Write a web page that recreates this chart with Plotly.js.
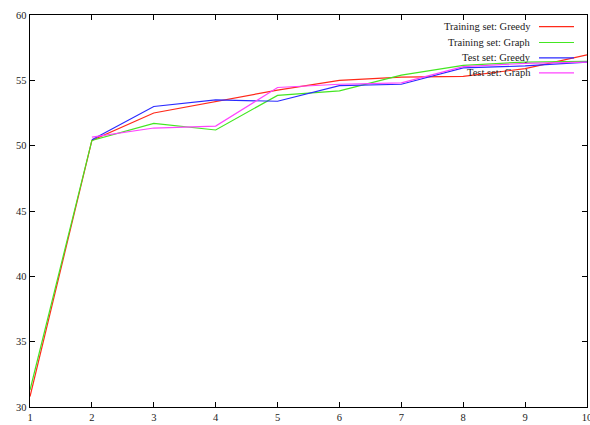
<!DOCTYPE html>
<html>
<head>
<meta charset="utf-8">
<script src="https://cdn.plot.ly/plotly-3.0.1.min.js"></script>
<style>html,body{margin:0;padding:0;background:#fff;}#chart{width:590px;height:425px;}</style>
</head>
<body>
<div id="chart"></div>
<script>
const xTrain = [1, 2, 3, 4, 5, 6, 7, 8, 9, 10];
const xTest = [2, 3, 4, 5, 6, 7, 8, 9, 10];
const trainGreedy = [30.8, 50.4, 52.5, 53.35, 54.25, 55.0, 55.25, 55.3, 55.9, 56.95];
const trainGraph = [31.3, 50.4, 51.7, 51.2, 53.85, 54.2, 55.4, 56.15, 56.4, 56.45];
const testGreedy = [50.45, 53.0, 53.5, 53.4, 54.6, 54.7, 55.95, 56.1, 56.4];
const testGraph = [50.65, 51.35, 51.5, 54.45, 54.7, 54.8, 56.05, 56.3, 56.4];
const seriesNames = ["Training set: Greedy", "Training set: Graph", "Test set: Greedy", "Test set: Graph"];
const seriesColors = ["#ff2a1a", "#44e622", "#2a2aff", "#ff44ff"];
const xTicks = [1, 2, 3, 4, 5, 6, 7, 8, 9, 10];
const yTicks = [30, 35, 40, 45, 50, 55, 60];

const xs = [xTrain, xTrain, xTest, xTest];
const ys = [trainGreedy, trainGraph, testGreedy, testGraph];
const traces = ys.map((y, i) => ({
  x: xs[i], y: y, type: 'scatter', mode: 'lines', name: seriesNames[i],
  line: {color: seriesColors[i], width: 1.2}, showlegend: false, hoverinfo: 'none'
}));

const font = {family: 'Liberation Serif, Times New Roman, serif', size: 10.5, color: '#222'};
const annotations = [];
const shapes = [];
const rowY = [26.7, 42.5, 57.8, 72.8];
seriesNames.forEach((n, i) => {
  const yp = 1 - (rowY[i] - 15) / (407 - 15);
  annotations.push({xref: 'paper', yref: 'paper', x: (533 - 30) / (587 - 30), y: yp,
    xanchor: 'right', yanchor: 'middle', text: n, showarrow: false, font: font});
  shapes.push({type: 'line', xref: 'paper', yref: 'paper',
    x0: (539 - 30) / (587 - 30), x1: (574 - 30) / (587 - 30), y0: yp, y1: yp,
    line: {color: seriesColors[i], width: 1.2}});
});

const axisCommon = {
  showline: true, mirror: 'ticks', linecolor: '#000', linewidth: 1.3,
  ticks: 'inside', ticklen: 5, tickwidth: 1, tickcolor: '#000',
  showgrid: false, zeroline: false, tickfont: font, fixedrange: true,
  ticklabeloverflow: 'allow'
};
const layout = {
  width: 590, height: 425,
  margin: {l: 30, r: 3, t: 15, b: 18},
  paper_bgcolor: '#fff', plot_bgcolor: '#fff',
  showlegend: false,
  xaxis: Object.assign({}, axisCommon, {range: [1, 10], tickvals: xTicks, ticktext: xTicks.map(String)}),
  yaxis: Object.assign({}, axisCommon, {range: [30, 60], tickvals: yTicks, ticktext: yTicks.map(String)}),
  annotations: annotations, shapes: shapes, font: font
};
Plotly.newPlot('chart', traces, layout, {staticPlot: true, displayModeBar: false});
</script>
</body>
</html>
